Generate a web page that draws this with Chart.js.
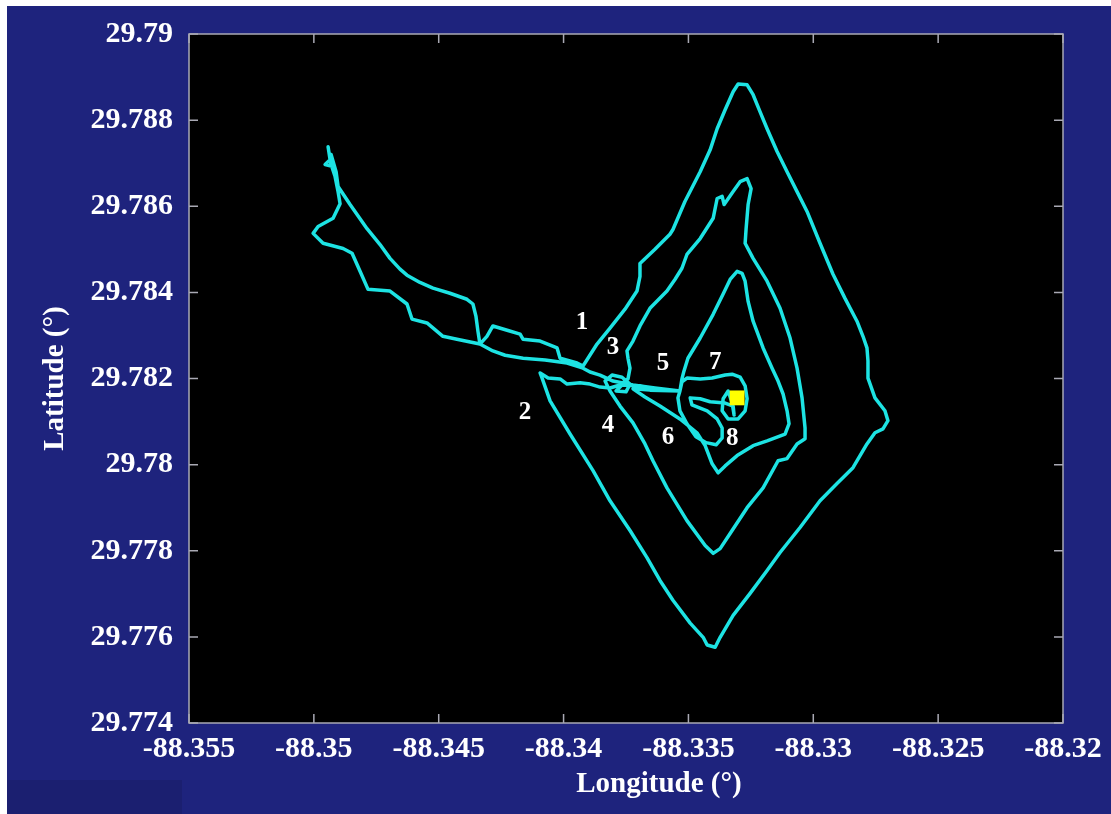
<!DOCTYPE html>
<html>
<head>
<meta charset="utf-8">
<script src="https://cdn.jsdelivr.net/npm/chart.js@4.4.1/dist/chart.umd.min.js"></script>
<style>
  html, body { margin: 0; padding: 0; background: #fff; }
  canvas { display: block; }
</style>
</head>
<body>
<canvas id="track-chart" width="1111" height="814"></canvas>
<script>
// axis ticks
const xTicks = [-88.355, -88.35, -88.345, -88.34, -88.335, -88.33, -88.325, -88.32];
const xTickLabels = ['-88.355', '-88.35', '-88.345', '-88.34', '-88.335', '-88.33', '-88.325', '-88.32'];
const yTicks = [29.774, 29.776, 29.778, 29.78, 29.782, 29.784, 29.786, 29.788, 29.79];
const yTickLabels = ['29.774', '29.776', '29.778', '29.78', '29.782', '29.784', '29.786', '29.788', '29.79'];

// ship track, leg by leg (longitude / latitude)
// leg out from the NW end to the survey site
const nwOutLon = [-88.34943, -88.34935, -88.34955, -88.34923, -88.34931, -88.34911, -88.34903, -88.34855, -88.34787, -88.34735,
  -88.34695, -88.34655, -88.34627, -88.34575, -88.34523, -88.34455, -88.34387, -88.34363, -88.34351, -88.34343,
  -88.34335, -88.34307, -88.34283, -88.34226, -88.34174, -88.34162, -88.34094, -88.34026, -88.34014, -88.33946, -88.33922];
const nwOutLat = [29.78738, 29.78708, 29.78697, 29.78692, 29.78720, 29.78680, 29.78646, 29.78604, 29.78548, 29.78511,
  29.78479, 29.78454, 29.78440, 29.78423, 29.78410, 29.78398, 29.78384, 29.78373, 29.78345, 29.78310,
  29.78280, 29.78298, 29.78322, 29.78312, 29.78303, 29.78291, 29.78287, 29.78271, 29.78247, 29.78236, 29.78229];

// passes 1 and 2 (outer diamond)
const loop1Lon = [-88.33866, -88.33814, -88.33754, -88.33706, -88.33694, -88.33694, -88.33634, -88.33574, -88.33562, -88.33514,
  -88.33453, -88.33413, -88.33385, -88.33353, -88.33321, -88.33301, -88.33265, -88.33241, -88.33213, -88.33185,
  -88.33145, -88.33105, -88.33065, -88.33025, -88.32973, -88.32921, -88.32873, -88.32825, -88.32801, -88.32785,
  -88.32781, -88.32781, -88.32753, -88.32713, -88.32701, -88.32721, -88.32753, -88.32785, -88.32841, -88.32905,
  -88.32973, -88.33053, -88.33133, -88.33185, -88.33253, -88.33321, -88.33373, -88.33393, -88.33425, -88.33441,
  -88.33493, -88.33562, -88.33614, -88.33666, -88.33734, -88.33814, -88.33882, -88.33974, -88.34054, -88.34086,
  -88.34094, -88.34062, -88.34014, -88.33986, -88.33934, -88.33894, -88.33854, -88.33814, -88.33774, -88.33742];
const loop1Lat = [29.78280, 29.78317, 29.78361, 29.78403, 29.78437, 29.78467, 29.78500, 29.78535, 29.78546, 29.78611,
  29.78680, 29.78731, 29.78780, 29.78824, 29.78866, 29.78884, 29.78882, 29.78859, 29.78819, 29.78780,
  29.78727, 29.78680, 29.78634, 29.78588, 29.78514, 29.78442, 29.78386, 29.78333, 29.78298, 29.78271,
  29.78241, 29.78201, 29.78155, 29.78125, 29.78102, 29.78083, 29.78074, 29.78048, 29.77993, 29.77956,
  29.77916, 29.77854, 29.77796, 29.77754, 29.77701, 29.77650, 29.77599, 29.77576, 29.77581, 29.77599,
  29.77632, 29.77685, 29.77731, 29.77784, 29.77847, 29.77916, 29.77986, 29.78071, 29.78148, 29.78201,
  29.78213, 29.78201, 29.78199, 29.78187, 29.78190, 29.78187, 29.78180, 29.78178, 29.78185, 29.78199];

// passes 3 and 4
const loop2Lon = [-88.33734, -88.33742, -88.33746, -88.33722, -88.33694, -88.33654, -88.33586, -88.33554, -88.33526, -88.33506,
  -88.33453, -88.33401, -88.33385, -88.33365, -88.33357, -88.33321, -88.33293, -88.33265, -88.33249, -88.33261,
  -88.33269, -88.33273, -88.33241, -88.33185, -88.33133, -88.33093, -88.33065, -88.33045, -88.33033, -88.33033,
  -88.33065, -88.33105, -88.33141, -88.33201, -88.33265, -88.33333, -88.33373, -88.33401, -88.33433, -88.33506,
  -88.33586, -88.33642, -88.33674, -88.33722, -88.33774, -88.33814];
const loop2Lat = [29.78224, 29.78247, 29.78264, 29.78287, 29.78322, 29.78363, 29.78403, 29.78430, 29.78456, 29.78488,
  29.78525, 29.78572, 29.78618, 29.78623, 29.78604, 29.78634, 29.78657, 29.78664, 29.78641, 29.78604,
  29.78548, 29.78514, 29.78479, 29.78426, 29.78363, 29.78294, 29.78224, 29.78155, 29.78085, 29.78060,
  29.78048, 29.78014, 29.78009, 29.77946, 29.77900, 29.77840, 29.77805, 29.77794, 29.77812, 29.77870,
  29.77946, 29.78009, 29.78048, 29.78097, 29.78136, 29.78171];

// passes 5 and 6
const loop3Lon = [-88.33834, -88.33806, -88.33766, -88.33734, -88.33750, -88.33790, -88.33766, -88.33694, -88.33634, -88.33586,
  -88.33534, -88.33526, -88.33518, -88.33502, -88.33453, -88.33401, -88.33361, -88.33333, -88.33305, -88.33285,
  -88.33273, -88.33261, -88.33241, -88.33201, -88.33165, -88.33141, -88.33121, -88.33105, -88.33097, -88.33113,
  -88.33185, -88.33241, -88.33305, -88.33353, -88.33381, -88.33405, -88.33433, -88.33466, -88.33534, -88.33614,
  -88.33674, -88.33722];
const loop3Lat = [29.78194, 29.78208, 29.78203, 29.78187, 29.78169, 29.78171, 29.78185, 29.78183, 29.78176, 29.78171,
  29.78171, 29.78199, 29.78217, 29.78247, 29.78294, 29.78349, 29.78396, 29.78430, 29.78449, 29.78444,
  29.78426, 29.78379, 29.78333, 29.78271, 29.78224, 29.78194, 29.78164, 29.78125, 29.78095, 29.78071,
  29.78055, 29.78044, 29.78021, 29.77997, 29.77981, 29.78002, 29.78044, 29.78074, 29.78106, 29.78136,
  29.78157, 29.78176];

// passes 7 and 8 round the site
const loop4Lon = [-88.33654, -88.33534, -88.33526, -88.33506, -88.33453, -88.33405, -88.33353, -88.33325, -88.33293, -88.33273,
  -88.33265, -88.33273, -88.33301, -88.33341, -88.33365, -88.33361, -88.33341, -88.33325, -88.33317, -88.33321,
  -88.33353, -88.33413, -88.33453, -88.33493, -88.33486, -88.33425, -88.33385, -88.33365, -88.33365, -88.33389,
  -88.33429, -88.33470, -88.33506, -88.33534, -88.33542, -88.33534];
const loop4Lat = [29.78173, 29.78171, 29.78192, 29.78201, 29.78199, 29.78201, 29.78208, 29.78210, 29.78203, 29.78183,
  29.78153, 29.78125, 29.78106, 29.78106, 29.78125, 29.78153, 29.78171, 29.78143, 29.78115, 29.78136,
  29.78143, 29.78146, 29.78153, 29.78155, 29.78139, 29.78125, 29.78106, 29.78085, 29.78062, 29.78046,
  29.78051, 29.78065, 29.78095, 29.78125, 29.78155, 29.78171];

// leg back to the NW end
const nwBackLon = [-88.33634, -88.33722, -88.33802, -88.33854, -88.33894, -88.33922, -88.33986, -88.34074, -88.34162, -88.34234,
  -88.34283, -88.34335, -88.34427, -88.34483, -88.34547, -88.34607, -88.34627, -88.34695, -88.34783, -88.34815,
  -88.34847, -88.34883, -88.34963, -88.35003, -88.34983, -88.34923, -88.34895, -88.34903, -88.34915, -88.34935];
const nwBackLat = [29.78178, 29.78185, 29.78194, 29.78208, 29.78215, 29.78224, 29.78236, 29.78243, 29.78247, 29.78254,
  29.78264, 29.78280, 29.78291, 29.78298, 29.78329, 29.78338, 29.78373, 29.78403, 29.78407, 29.78449,
  29.78491, 29.78502, 29.78514, 29.78537, 29.78553, 29.78572, 29.78606, 29.78634, 29.78669, 29.78704];

// site marker
const siteLon = -88.33305;
const siteLat = 29.78155;

// pass numbers
const passLabels = ['1', '2', '3', '4', '5', '6', '7', '8'];
const passLon = [-88.33926, -88.34154, -88.33802, -88.33822, -88.33602, -88.33582, -88.33393, -88.33325];
const passLat = [29.78329, 29.78120, 29.78273, 29.78090, 29.78234, 29.78062, 29.78236, 29.78060];

const legs = [
  [nwOutLon, nwOutLat],
  [loop1Lon, loop1Lat],
  [loop2Lon, loop2Lat],
  [loop3Lon, loop3Lat],
  [loop4Lon, loop4Lat],
  [nwBackLon, nwBackLat]
];
const trackPoints = [];
legs.forEach(([lons, lats]) => {
  lons.forEach((lon, i) => trackPoints.push({ x: lon, y: lats[i] }));
});

const serif = "'Liberation Serif', 'Times New Roman', serif";
const tickFont = { family: serif, size: 30, weight: 'bold' };
const titleFont = { family: serif, size: 29, weight: 'bold' };

const framePlugin = {
  id: 'framePlugin',
  beforeDraw(chart) {
    const { ctx, chartArea: a, width, height } = chart;
    ctx.save();
    ctx.fillStyle = '#ffffff';
    ctx.fillRect(0, 0, width, height);
    ctx.fillStyle = '#1e237d';
    ctx.fillRect(7, 6, width - 7, height - 6);
    ctx.fillStyle = '#1b1f70';
    ctx.fillRect(7, 780, 175, height - 780);
    ctx.fillStyle = '#000000';
    ctx.fillRect(a.left, a.top, a.right - a.left, a.bottom - a.top);
    ctx.restore();
  },
  afterDatasetsDraw(chart) {
    const { ctx, chartArea: a, scales: { x, y } } = chart;
    ctx.save();
    ctx.strokeStyle = '#a9a9b4';
    ctx.lineWidth = 1.5;
    ctx.strokeRect(a.left, a.top, a.right - a.left, a.bottom - a.top);
    ctx.beginPath();
    xTicks.forEach(v => {
      const px = x.getPixelForValue(v);
      ctx.moveTo(px, a.bottom); ctx.lineTo(px, a.bottom - 9);
      ctx.moveTo(px, a.top); ctx.lineTo(px, a.top + 9);
    });
    yTicks.forEach(v => {
      const py = y.getPixelForValue(v);
      ctx.moveTo(a.left, py); ctx.lineTo(a.left + 9, py);
      ctx.moveTo(a.right, py); ctx.lineTo(a.right - 9, py);
    });
    ctx.stroke();

    ctx.fillStyle = '#ffffff';
    ctx.textAlign = 'center';
    ctx.textBaseline = 'middle';
    ctx.font = `bold 25px ${serif}`;
    passLabels.forEach((t, i) => {
      ctx.fillText(t, x.getPixelForValue(passLon[i]), y.getPixelForValue(passLat[i]));
    });

    // x title sits a little right of the plot centre in the original
    ctx.font = `bold 29px ${serif}`;
    ctx.fillText('Longitude (°)', (a.left + a.right) / 2 + 33, a.bottom + 62);
    ctx.restore();
  }
};

new Chart(document.getElementById('track-chart'), {
  type: 'scatter',
  data: {
    datasets: [
      {
        label: 'Site',
        data: [{ x: siteLon, y: siteLat }],
        pointStyle: 'rect',
        pointRadius: 10.5,
        backgroundColor: '#ffff00',
        borderWidth: 0
      },
      {
        label: 'Track',
        data: trackPoints,
        showLine: true,
        borderColor: '#1de3e3',
        borderWidth: 3.5,
        borderJoinStyle: 'round',
        borderCapStyle: 'round',
        pointRadius: 0,
        tension: 0,
        fill: false
      }
    ]
  },
  options: {
    responsive: false,
    animation: false,
    events: [],
    layout: { padding: { top: 32, right: 48, left: 0, bottom: 0 } },
    plugins: {
      legend: { display: false },
      tooltip: { enabled: false }
    },
    scales: {
      x: {
        type: 'linear',
        min: -88.355,
        max: -88.32,
        afterBuildTicks: s => { s.ticks = xTicks.map(v => ({ value: v })); },
        afterFit: s => { s.height = 91; },
        grid: { display: false, drawTicks: false },
        border: { display: false },
        ticks: {
          color: '#ffffff',
          font: tickFont,
          padding: 8,
          maxRotation: 0,
          autoSkip: false,
          callback: (v, i) => xTickLabels[i]
        },
        title: { display: false }
      },
      y: {
        type: 'linear',
        min: 29.774,
        max: 29.79,
        afterBuildTicks: s => { s.ticks = yTicks.map(v => ({ value: v })); },
        afterFit: s => { s.width = 189; },
        grid: { display: false, drawTicks: false },
        border: { display: false },
        ticks: {
          color: '#ffffff',
          font: tickFont,
          padding: 16,
          autoSkip: false,
          callback: (v, i) => yTickLabels[i]
        },
        title: {
          display: true,
          text: 'Latitude (°)',
          color: '#ffffff',
          font: titleFont,
          padding: { top: 38, bottom: 0 }
        }
      }
    }
  },
  plugins: [framePlugin]
});
</script>
</body>
</html>
